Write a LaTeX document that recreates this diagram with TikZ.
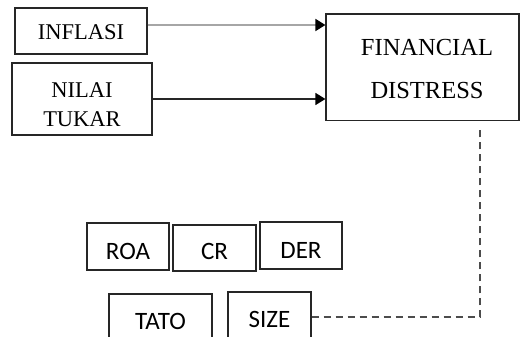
\documentclass[tikz,border=0pt]{standalone}
\usepackage{fontspec}
\newfontfamily\timesfont{Liberation Serif}
\newfontfamily\calfont{Carlito}
\usetikzlibrary{arrows.meta}
\begin{document}
\begin{tikzpicture}[x=1pt,y=-1pt,
  box/.style={draw=black!85, line width=1.2pt, inner sep=0pt},
  topfont/.style={font=\timesfont\fontsize{22.5}{29}\selectfont},
  fdfont/.style={font=\timesfont\fontsize{24.5}{44}\selectfont},
  lowfont/.style={font=\calfont\fontsize{25}{30}\selectfont},
  arrowtip/.style={-{Triangle[length=10pt,width=12pt,color=black]}},
  grayline/.style={draw=black!35, line width=1.8pt},
  blackline/.style={draw=black!85, line width=1.6pt},
  dashline/.style={draw=black!70, line width=1.3pt, dash pattern=on 7pt off 5pt}
]
\clip (0,0) rectangle (520,337);
\node[box, topfont, minimum width=132, minimum height=46] (inflasi) at (81,31)
  {\raisebox{-9pt}[0pt][0pt]{INFLASI}};
\node[box, topfont, minimum width=140, minimum height=72] (nilai) at (82,99)
  {\raisebox{1pt}[0pt][0pt]{\begin{tabular}[t]{@{}c@{}}NILAI\\TUKAR\end{tabular}}};
\node[box, fdfont, minimum width=193, minimum height=106.5] (fd) at (422.5,67.25)
  {\raisebox{12.25pt}[0pt][0pt]{\hspace{9pt}\begin{tabular}[t]{@{}c@{}}FINANCIAL\\DISTRESS\end{tabular}}};
\node[box, lowfont, minimum width=82, minimum height=47] (roa) at (128,246.5)
  {\raisebox{-12.5pt}[0pt][0pt]{ROA}};
\node[box, lowfont, minimum width=83, minimum height=46] (cr) at (214.5,248)
  {\raisebox{-11pt}[0pt][0pt]{CR}};
\node[box, lowfont, minimum width=82, minimum height=47] (der) at (301,245.5)
  {\raisebox{-12.5pt}[0pt][0pt]{DER}};
\node[box, lowfont, minimum width=103, minimum height=50] (tato) at (160.5,319)
  {\raisebox{-10.5pt}[0pt][0pt]{TATO}};
\node[box, lowfont, minimum width=83, minimum height=50] (size) at (269.5,317)
  {\raisebox{-10pt}[0pt][0pt]{SIZE}};
\coordinate (a1) at ([yshift=6pt]inflasi.east);
\draw[grayline, arrowtip] (a1) -- (a1 -| fd.west);
\draw[blackline, arrowtip] (nilai.east) -- (nilai.east -| fd.west);
\coordinate (dtop) at ([xshift=57.5pt,yshift=-7.5pt]fd.south);
\draw[dashline] (size.east) -| (dtop);
\end{tikzpicture}
\end{document}
